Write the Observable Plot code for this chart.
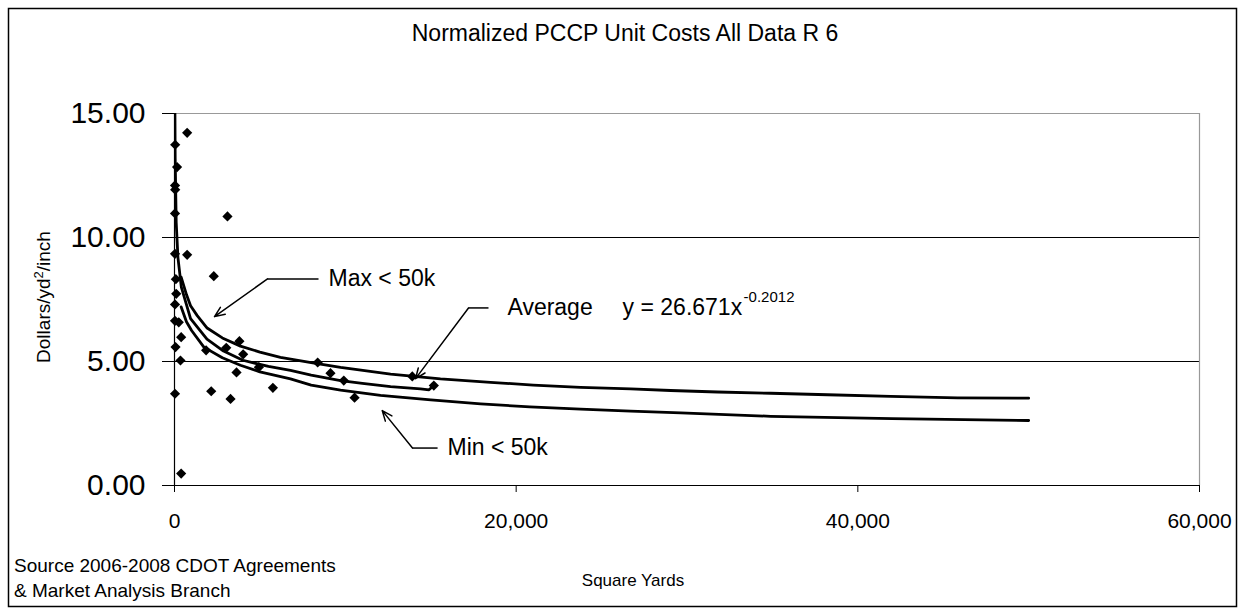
<!DOCTYPE html>
<html>
<head>
<meta charset="utf-8">
<script src="https://cdn.jsdelivr.net/npm/d3@7"></script>
<script src="https://cdn.jsdelivr.net/npm/@observablehq/plot@0.6"></script>
<style>
  html, body { margin: 0; padding: 0; background: white; }
  #chart { width: 1244px; height: 615px; }
</style>
</head>
<body>
<div id="chart"></div>
<script>
// ---- Data ----
const scatterX = [40, 150, 30, 40, 30, 30, 80, 100, 30, 30, 250, 60, 350, 30,
                  740, 3100, 740, 2300, 390, 1850, 3030, 3800, 4020, 4940, 3630,
                  2150, 3280, 5760, 8380, 9130, 9910, 10540, 13920, 15180, 390];
const scatterY = [13.74, 12.84, 12.10, 11.93, 10.97, 9.34, 8.32, 7.73, 7.30, 6.64, 6.58, 5.58, 5.04, 3.70,
                  14.22, 10.85, 9.30, 8.44, 5.98, 5.45, 5.55, 5.82, 5.29, 4.77, 4.56,
                  3.80, 3.49, 3.94, 4.96, 4.53, 4.23, 3.54, 4.40, 4.03, 0.48];

// "Max < 50k" curve
const maxX = [390, 700, 940, 1330, 1910, 2800, 3860, 5000, 6200, 8000, 9720, 12650, 15570, 18500,
              21000, 23770, 26700, 29040, 31790, 34900, 38230, 41920, 45840, 50000];
const maxY = [8.40, 7.70, 7.25, 6.85, 6.35, 5.95, 5.62, 5.38, 5.17, 4.95, 4.76, 4.49, 4.30, 4.16,
              4.05, 3.96, 3.90, 3.83, 3.77, 3.72, 3.66, 3.59, 3.53, 3.52];

// "Average" curve (power trend y = 26.671x^-0.2012 as drawn)
const avgX = [10, 40, 100, 200, 400, 940, 1900, 2870, 4000, 5500, 6790, 8000, 9720, 11000, 12650, 14400, 14900, 15180];
const avgY = [17.0, 13.2, 10.6, 9.2, 8.0, 6.73, 5.90, 5.42, 5.05, 4.80, 4.64, 4.45, 4.23, 4.12, 3.99, 3.90, 3.86, 4.03];

// "Min < 50k" curve
const minX = [390, 700, 1000, 1720, 2800, 3860, 5000, 6790, 8000, 9720, 12060, 15000, 17920,
              20800, 23770, 26700, 29630, 34900, 42000, 50000];
const minY = [7.20, 6.60, 6.25, 5.58, 5.15, 4.85, 4.58, 4.30, 4.05, 3.85, 3.63, 3.45, 3.29,
              3.17, 3.08, 3.00, 2.93, 2.79, 2.70, 2.62];

// Axis ticks
const xTicks = [0, 20000, 40000, 60000];
const yTicks = [0, 5, 10, 15];
const gridY = [5, 10];

// Annotations: label, label anchor, arrow segment start, elbow, tip
const annLabel = ["Max < 50k", "Average", "Min < 50k"];
const annTextX = [9015, 19490, 15980];
const annY     = [8.33, 7.16, 1.51];
const annSegX  = [8430, 18380, 15400];
const annElbowX = [5444, 17210, 13930];
const annTipX  = [2342, 14110, 12160];
const annTipY  = [6.81, 4.31, 3.02];

const eqText = "y = 26.671x";
const eqSup = "-0.2012";
const eqX = [26230];
const eqY = [7.16];

const titleText = "Normalized PCCP Unit Costs All Data R 6";
const xLabel = "Square Yards";
const sourceLines = ["Source 2006-2008 CDOT Agreements", "& Market Analysis Branch"];

// ---- Build tables ----
const points = scatterX.map((x, i) => ({x, y: scatterY[i]}));
const maxLine = maxX.map((x, i) => ({x, y: maxY[i]}));
const avgLine = avgX.map((x, i) => ({x, y: avgY[i]}));
const minLine = minX.map((x, i) => ({x, y: minY[i]}));
const ann = annLabel.map((label, i) => ({
  label, tx: annTextX[i], y: annY[i], sx: annSegX[i], ex: annElbowX[i],
  px: annTipX[i], py: annTipY[i]
}));
const eq = eqX.map((x, i) => ({x, y: eqY[i]}));

const FONT = "'Liberation Sans', Arial, Helvetica, sans-serif";

const plot = Plot.plot({
  width: 1244,
  height: 615,
  marginLeft: 174,
  marginRight: 45,
  marginTop: 113,
  marginBottom: 130,
  style: {fontFamily: FONT, background: "white", color: "black", overflow: "visible"},
  x: {domain: [0, 60000]},
  y: {domain: [0, 15]},
  marks: [
    Plot.ruleY(gridY, {stroke: "black", strokeWidth: 1}),
    Plot.ruleY([15], {stroke: "#999", strokeWidth: 1.2}),
    Plot.ruleX([60000], {stroke: "#999", strokeWidth: 1.2}),
    Plot.axisY({ticks: yTicks, tickFormat: d => d.toFixed(2), tickSize: 12, tickPadding: 17,
                fontSize: 30, label: null, stroke: "black", color: "black"}),
    Plot.axisX({ticks: xTicks, tickFormat: d3.format(","), tickSize: 7, tickPadding: 21,
                fontSize: 21, label: null, stroke: "black", color: "black"}),
    Plot.ruleX([0], {stroke: "black", strokeWidth: 1.2}),
    Plot.ruleY([0], {stroke: "black", strokeWidth: 1.2}),
    Plot.line(maxLine, {x: "x", y: "y", stroke: "black", strokeWidth: 2.8, clip: true}),
    Plot.line(avgLine, {x: "x", y: "y", stroke: "black", strokeWidth: 2.8, clip: true}),
    Plot.line(minLine, {x: "x", y: "y", stroke: "black", strokeWidth: 2.8, clip: true}),
    Plot.dot(points, {x: "x", y: "y", symbol: "diamond2", r: 4.6, fill: "black", stroke: null}),
    Plot.link(ann, {x1: "sx", y1: "y", x2: "ex", y2: "y", stroke: "black", strokeWidth: 1.5}),
    Plot.arrow(ann, {x1: "ex", y1: "y", x2: "px", y2: "py", stroke: "black", strokeWidth: 1.5, headLength: 11, headAngle: 45}),
    Plot.text(ann, {x: "tx", y: "y", text: "label", textAnchor: "start", fontSize: 23, fill: "black"}),
    Plot.text(eq, {x: "x", y: "y", text: () => eqText, textAnchor: "start", fontSize: 23, fill: "black"}),
    Plot.text(eq, {x: "x", y: "y", text: () => eqSup, textAnchor: "start", fontSize: 15, dx: 121, dy: -11, fill: "black"})
  ]
});

const svg = d3.select(plot);
// outer chart border
svg.append("rect")
  .attr("x", 8.5).attr("y", 8.5).attr("width", 1228).attr("height", 598)
  .attr("fill", "none").attr("stroke", "black").attr("stroke-width", 1.5);
// title
svg.append("text").attr("x", 625).attr("y", 41).attr("text-anchor", "middle")
  .attr("font-size", 23).attr("font-family", FONT).attr("fill", "black").text(titleText);
// y label with superscript
const yl = svg.append("text")
  .attr("transform", "translate(43,297) rotate(-90)")
  .attr("text-anchor", "middle").attr("dy", "0.35em")
  .attr("font-size", 19).attr("font-family", FONT).attr("fill", "black");
yl.append("tspan").text("Dollars/yd");
yl.append("tspan").attr("font-size", 13).attr("dy", "-0.55em").text("2");
yl.append("tspan").attr("dy", "0.38em").text("/inch");
// x label
svg.append("text").attr("x", 633).attr("y", 586).attr("text-anchor", "middle")
  .attr("font-size", 17).attr("font-family", FONT).attr("fill", "black").text(xLabel);
// source lines
sourceLines.forEach((t, i) => {
  svg.append("text").attr("x", 14).attr("y", 572 + i * 25).attr("text-anchor", "start")
    .attr("font-size", 19).attr("font-family", FONT).attr("fill", "black").text(t);
});

document.getElementById("chart").appendChild(plot);
</script>
</body>
</html>
